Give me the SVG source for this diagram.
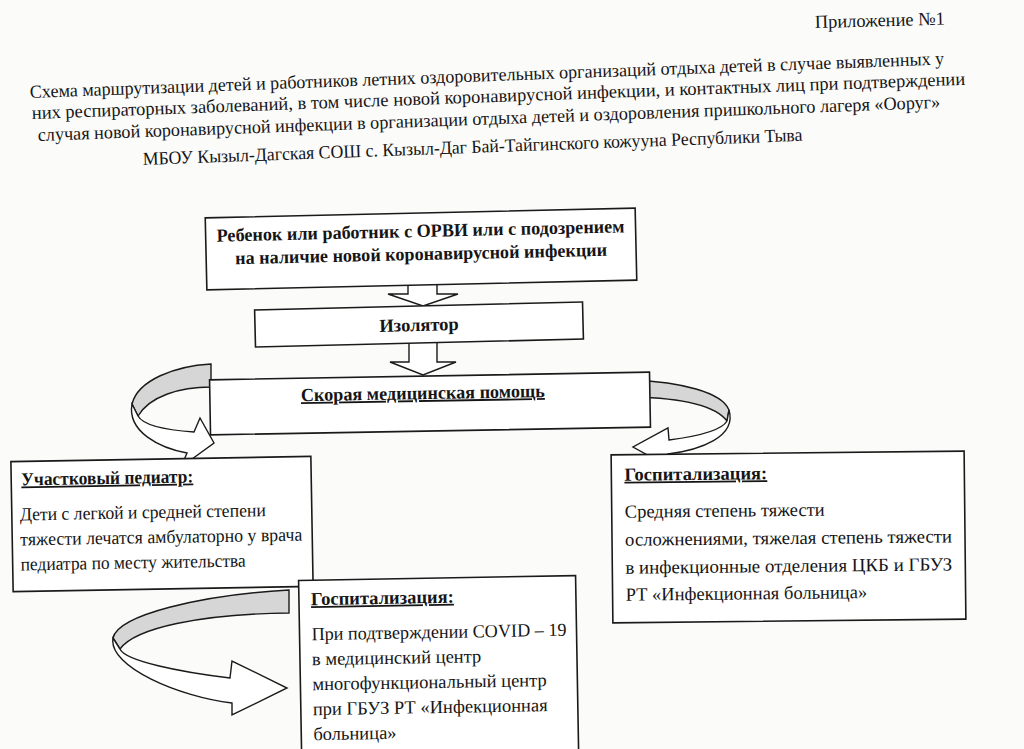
<svg xmlns="http://www.w3.org/2000/svg" width="1024" height="749" viewBox="0 0 1024 749">
<style>
.t{font-family:"Liberation Serif","DejaVu Serif",serif;fill:#151515}
.h{font-size:18.5px}
.b{font-weight:bold}
.r{font-size:18.5px}
.u{text-decoration:underline}
.box{fill:#fff;stroke:#1a1a1a;stroke-width:1.6}
.ar{fill:#fff;stroke:#1a1a1a;stroke-width:1.4;stroke-linejoin:miter}
.gr{fill:#d6d6d6;stroke:#1a1a1a;stroke-width:1.4}
</style>
<rect width="1024" height="749" fill="#fbfbfa"/>
<g id="header">
<text class="t h" x="815" y="28" textLength="130" lengthAdjust="spacingAndGlyphs" transform="rotate(-1.5 815 28)">Приложение №1</text>
<text class="t h" x="30" y="98" textLength="915" lengthAdjust="spacingAndGlyphs" transform="rotate(-2.1 30 98)">Схема маршрутизации детей и работников летних оздоровительных организаций отдыха детей в случае выявленных у</text>
<text class="t h" x="32" y="119" textLength="934" lengthAdjust="spacingAndGlyphs" transform="rotate(-2.1 32 119)">них респираторных заболеваний, в том числе новой коронавирусной инфекции, и контактных лиц при подтверждении</text>
<text class="t h" x="38" y="141" textLength="903" lengthAdjust="spacingAndGlyphs" transform="rotate(-2.1 38 141)">случая новой коронавирусной инфекции в организации отдыха детей и оздоровления пришкольного лагеря «Ооруг»</text>
<text class="t h" x="143" y="165" textLength="660" lengthAdjust="spacingAndGlyphs" transform="rotate(-2.1 143 165)">МБОУ Кызыл-Дагская СОШ с. Кызыл-Даг Бай-Тайгинского кожууна Республики Тыва</text>
</g>
<g id="connectors">
<polygon class="ar" points="408,284 437,284 437,294 458,294 423,306 388,294 408,294"/>
<polygon class="ar" points="409,341 437,341 437,362 456,362 423,375 390,362 409,362"/>
<path class="gr" d="M211,364 C175,366 138,380 132,404 L138,416 C150,396 180,387 211,387 Z"/>
<path class="ar" d="M132,404 C127,432 160,448 187,453 L181,467 L214,443 L200,418 L194,432 C165,430 143,425 138,416 Z"/>
<path class="gr" d="M633,380 C680,382 722,392 729,410 L727,421 C715,405 680,398 633,397 Z"/>
<path class="ar" d="M729,410 C737,437 700,450 668,454 L664,464 L633,447 L668,428 L669,440 C700,436 722,430 727,421 Z"/>
<path class="gr" d="M289,590 C200,595 118,615 113,638 L120,649 C135,628 200,614 289,613 Z"/>
<path class="ar" d="M113,638 C108,667 180,697 232,703 L232,715 L287,688 L232,661 L230,678 C180,672 125,661 120,649 Z"/>
</g>
<g id="n-patient" transform="rotate(-1.3 421 249)">
<rect class="box" x="206" y="213" width="430" height="72"/>
<text class="t b r" x="421" y="237" text-anchor="middle" textLength="408" lengthAdjust="spacingAndGlyphs">Ребенок или работник с ОРВИ или с подозрением</text>
<text class="t b r" x="421" y="260" text-anchor="middle" textLength="372" lengthAdjust="spacingAndGlyphs">на наличие новой коронавирусной инфекции</text>
</g>
<g id="n-isolator" transform="rotate(-1.4 419 324)">
<rect class="box" x="255" y="306" width="328" height="37"/>
<text class="t b r" x="419" y="331" text-anchor="middle">Изолятор</text>
</g>
<g id="n-ambulance" transform="rotate(-1 430 403)">
<rect class="box" x="210" y="376" width="440" height="55"/>
<text class="t b r u" x="423" y="399" text-anchor="middle" textLength="244" lengthAdjust="spacingAndGlyphs">Скорая медицинская помощь</text>
</g>
<g id="n-pediatr" transform="rotate(-1 162 524)">
<rect class="box" x="12" y="459" width="300" height="130"/>
<text class="t b r u" x="22" y="483" textLength="172" lengthAdjust="spacingAndGlyphs">Участковый педиатр:</text>
<text class="t r" x="20" y="518" textLength="246" lengthAdjust="spacingAndGlyphs">Дети с легкой и средней степени</text>
<text class="t r" x="20" y="543" textLength="282" lengthAdjust="spacingAndGlyphs">тяжести лечатся амбулаторно у врача</text>
<text class="t r" x="20" y="568" textLength="225" lengthAdjust="spacingAndGlyphs">педиатра по месту жительства</text>
</g>
<g id="n-hosp-right" transform="rotate(-0.6 788 537)">
<rect class="box" x="612" y="453" width="353" height="168"/>
<text class="t b r u" x="625" y="479">Госпитализация:</text>
<text class="t r" x="625" y="516">Средняя степень тяжести</text>
<text class="t r" x="625" y="544" textLength="327" lengthAdjust="spacingAndGlyphs">осложнениями, тяжелая степень тяжести</text>
<text class="t r" x="625" y="572" textLength="327" lengthAdjust="spacingAndGlyphs">в инфекционные отделения ЦКБ и ГБУЗ</text>
<text class="t r" x="625" y="599">РТ «Инфекционная больница»</text>
</g>
<g id="n-hosp-covid" transform="rotate(-1 438 660)">
<rect class="box" x="300" y="578" width="277" height="190"/>
<text class="t b r u" x="312" y="603">Госпитализация:</text>
<text class="t r" x="312" y="638" textLength="255" lengthAdjust="spacingAndGlyphs">При подтверждении COVID – 19</text>
<text class="t r" x="312" y="663">в медицинский центр</text>
<text class="t r" x="312" y="688">многофункциональный центр</text>
<text class="t r" x="312" y="713">при ГБУЗ РТ «Инфекционная</text>
<text class="t r" x="312" y="738">больница»</text>
</g>
</svg>
